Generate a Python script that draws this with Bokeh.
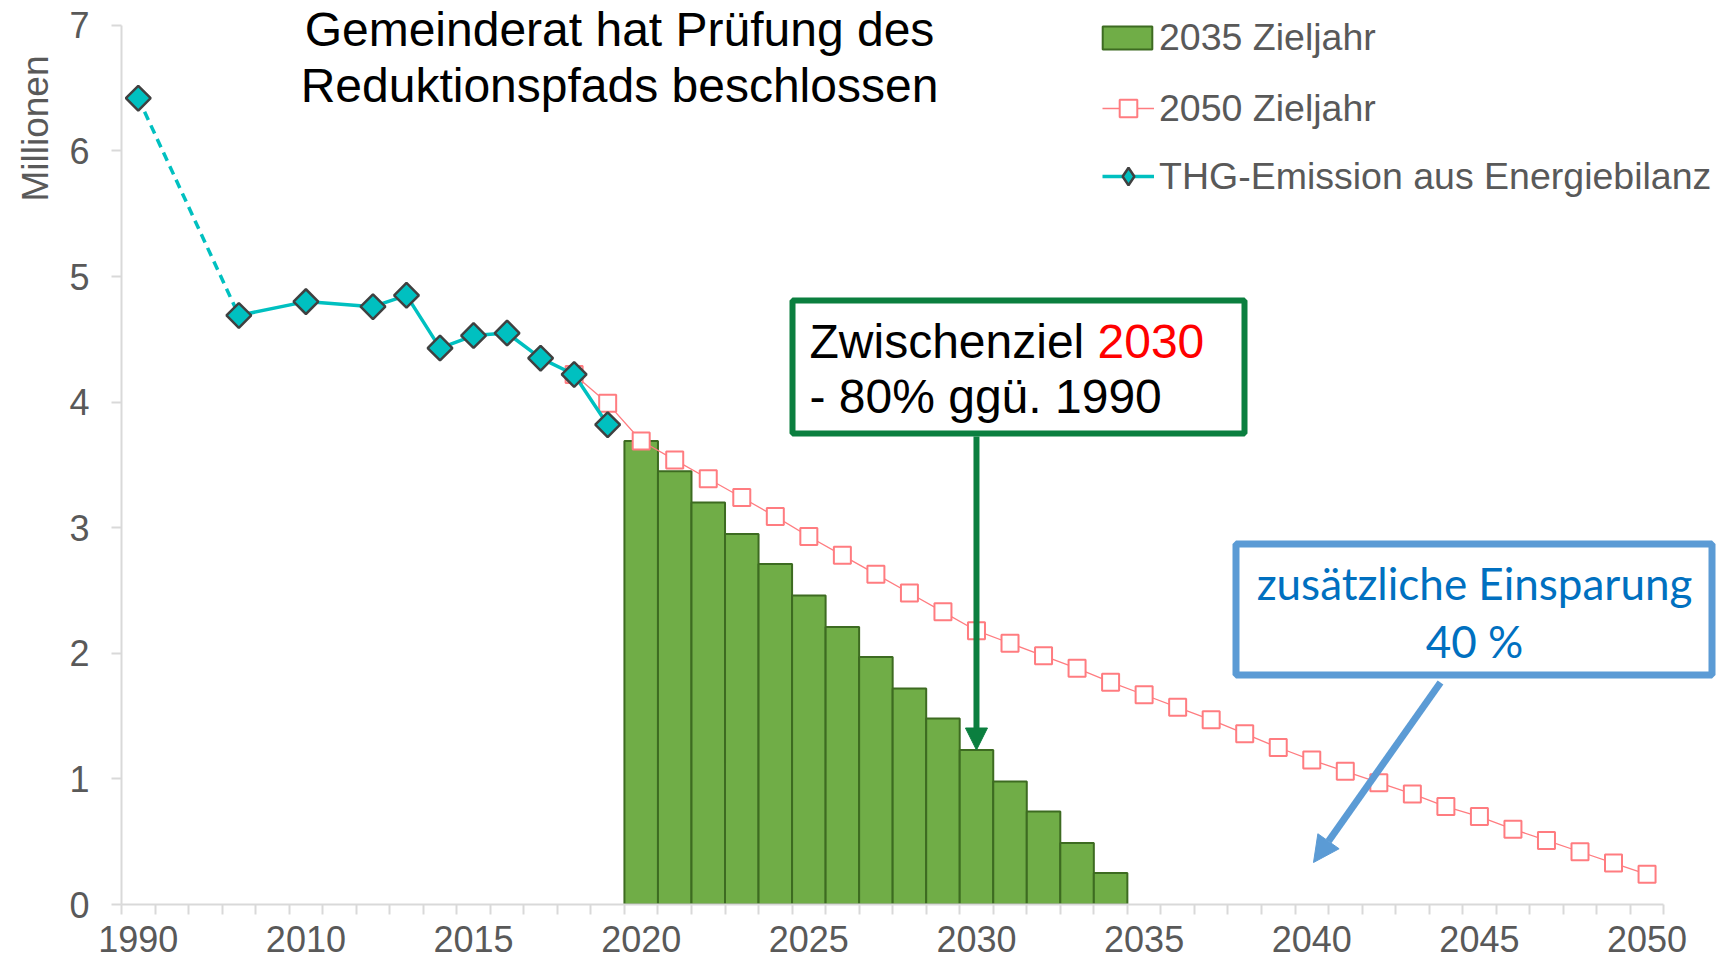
import numpy as np
from bokeh.plotting import figure
from bokeh.models import (Range1d, LinearAxis, FixedTicker, Legend, LegendItem,
                          Label, BoxAnnotation, Arrow, NormalHead, Title)
from bokeh.embed import file_html
from bokeh.resources import INLINE

# ---------------- data ----------------
categories = ["1990", "2006", "2007", "2008", "2009"] + [str(y) for y in range(2010, 2051)]
label_every = 5

thg_years = ["1990", "2008", "2010", "2012", "2013", "2014", "2015", "2016", "2017", "2018", "2019"]
thg_values = [6.42, 4.69, 4.80, 4.76, 4.85, 4.43, 4.53, 4.55, 4.35, 4.22, 3.82]

path2050_years = [str(y) for y in range(2018, 2051)]
path2050_values = [4.22, 3.99, 3.69, 3.54, 3.39, 3.24, 3.09, 2.93, 2.78, 2.63, 2.48,
                   2.33, 2.18, 2.08, 1.98, 1.88, 1.77, 1.67, 1.57, 1.47, 1.36, 1.25,
                   1.15, 1.06, 0.97, 0.88, 0.78, 0.70, 0.60, 0.51, 0.42, 0.33, 0.24]

path2035_years = [str(y) for y in range(2020, 2035)]
path2035_values = [3.69, 3.45, 3.20, 2.95, 2.71, 2.46, 2.21, 1.97, 1.72, 1.48,
                   1.23, 0.98, 0.74, 0.49, 0.25]

y_ticks = [0, 1, 2, 3, 4, 5, 6, 7]

# ---------------- layout helpers ----------------
pos = {c: i for i, c in enumerate(categories)}
thg_x = [pos[c] for c in thg_years]
p50_x = [pos[c] for c in path2050_years]
p35_x = [pos[c] for c in path2035_years]

W, H = 1723, 966
FL, FT, FB = 121, 0, 62          # borders (px)
X0, X1 = -0.5, 47.28
fw = W - FL
fh = H - FT - FB
Y1 = fh / 125.6
SP = fw / (X1 - X0)


def fx(X):  # page x -> data x
    return (X - FL) / SP + X0


def fy(Y):  # page y -> data y
    return (H - FB - Y) / fh * Y1


FONT = "Liberation Sans"
GREY = "#595959"
AXIS = "#D9D9D9"

p = figure(width=W, height=H, output_backend="svg", toolbar_location=None,
           x_range=Range1d(X0, X1), y_range=Range1d(0, Y1),
           x_axis_type=None, y_axis_type=None,
           min_border_left=FL, min_border_right=0, min_border_top=FT,
           min_border_bottom=FB)
p.outline_line_color = None
p.background_fill_color = "white"
p.border_fill_color = "white"

# axes
xaxis = LinearAxis(
    ticker=FixedTicker(ticks=list(range(0, len(categories), label_every)),
                       minor_ticks=[i - 0.5 for i in range(len(categories) + 1)]),
    major_label_overrides={i: categories[i] for i in range(0, len(categories), label_every)},
    bounds=(-0.5, len(categories) - 0.5))
xaxis.axis_line_color = AXIS
xaxis.axis_line_width = 2
xaxis.major_tick_out = 10
xaxis.major_tick_in = 0
xaxis.major_tick_line_color = None
xaxis.minor_tick_out = 10
xaxis.minor_tick_in = 0
xaxis.minor_tick_line_color = AXIS
xaxis.minor_tick_line_width = 2
xaxis.major_label_standoff = 11
xaxis.major_label_text_font = FONT
xaxis.major_label_text_font_size = "36px"
xaxis.major_label_text_color = GREY
p.add_layout(xaxis, "below")

yaxis = LinearAxis(ticker=FixedTicker(ticks=y_ticks), bounds=(0, 7))
yaxis.axis_line_color = AXIS
yaxis.axis_line_width = 2
yaxis.major_tick_out = 10
yaxis.major_tick_in = 0
yaxis.major_tick_line_color = AXIS
yaxis.major_tick_line_width = 2
yaxis.minor_tick_line_color = None
yaxis.major_label_standoff = 22
yaxis.major_label_text_font = FONT
yaxis.major_label_text_font_size = "36px"
yaxis.major_label_text_color = GREY
p.add_layout(yaxis, "left")

# unit caption on the left, near the top
p.add_layout(Title(text="Millionen", align="right", offset=55, standoff=21,
                   text_font=FONT, text_font_size="37px", text_font_style="normal",
                   text_color=GREY), "left")

# glyphs
bars = p.vbar(x=p35_x, top=path2035_values, width=1.0, fill_color="#70AD47",
              line_color="#3D6B21", line_width=2)

red_line = p.line(p50_x, path2050_values, line_color="#FF7C80", line_width=1.3)
red_pts = p.scatter(p50_x, path2050_values, marker="square", size=17, fill_color="white",
                    line_color="#FF7C80", line_width=2)

TEAL = "#00C0C0"
p.line(thg_x[:2], thg_values[:2], line_color=TEAL, line_width=3.5, line_dash="9 6")
thg_line = p.line(thg_x[1:], thg_values[1:], line_color=TEAL, line_width=3.5)
p.scatter(thg_x, thg_values, marker="square", angle=np.pi / 4, size=17.5,
          fill_color=TEAL, line_color="#404040", line_width=2.5)
thg_leg = p.scatter(thg_x, thg_values, marker="diamond", size=20, fill_color=TEAL,
                    line_color="#404040", line_width=2.5, visible=False)

# legends
common = dict(padding=0, margin=0, border_line_color=None, background_fill_alpha=0,
              label_text_font=FONT, label_text_font_size="37.5px", label_text_color=GREY)
legA = Legend(items=[LegendItem(label="2035 Zieljahr", renderers=[bars])],
              location=(1096 - FL, 845), glyph_width=62, glyph_height=29,
              label_standoff=1, spacing=0, **common)
legB = Legend(items=[LegendItem(label="2050 Zieljahr", renderers=[red_line, red_pts]),
                     LegendItem(label="THG-Emission aus Energiebilanz", renderers=[thg_line, thg_leg])],
              location=(1102 - FL, 706), glyph_width=52, glyph_height=44,
              label_standoff=5, spacing=24, **common)
p.add_layout(legA)
p.add_layout(legB)

# title
for txt, yy in [("Gemeinderat hat Prüfung des", 29), ("Reduktionspfads beschlossen", 85)]:
    p.add_layout(Label(x=fx(619), y=fy(yy), text=txt, text_align="center",
                       text_baseline="middle", text_font=FONT, text_font_size="48px",
                       text_color="black"))

# green callout
GREEN = "#0B7F3F"
p.add_layout(BoxAnnotation(left=fx(792), right=fx(1244), top=fy(300), bottom=fy(433),
                           fill_color="white", fill_alpha=1, line_color=GREEN,
                           line_alpha=1, line_width=6))
p.add_layout(Label(x=fx(809), y=fy(341), text="Zwischenziel", text_baseline="middle",
                   text_font=FONT, text_font_size="48px", text_color="black"))
p.add_layout(Label(x=fx(1097), y=fy(341), text="2030", text_baseline="middle",
                   text_font=FONT, text_font_size="48px", text_color="#FF0000"))
p.add_layout(Label(x=fx(809), y=fy(396), text="- 80% ggü. 1990", text_baseline="middle",
                   text_font=FONT, text_font_size="48px", text_color="black"))
p.add_layout(Arrow(x_start=pos["2030"], y_start=fy(436), x_end=pos["2030"],
                   y_end=path2035_values[path2035_years.index("2030")],
                   line_color=GREEN, line_width=6,
                   end=NormalHead(size=22, fill_color=GREEN, line_color=GREEN)))

# blue callout
BLUE = "#5B9BD5"
p.add_layout(BoxAnnotation(left=fx(1235.5), right=fx(1711.5), top=fy(543.5), bottom=fy(674.5),
                           fill_color="white", fill_alpha=1, line_color=BLUE,
                           line_alpha=1, line_width=7))
p.add_layout(Label(x=fx(1474), y=fy(582), text="zusätzliche Einsparung", text_align="center",
                   text_baseline="middle", text_font="Lato", text_font_size="44px",
                   text_color="#0070C0"))
p.add_layout(Label(x=fx(1474), y=fy(640), text="40 %", text_align="center",
                   text_baseline="middle", text_font="Lato", text_font_size="44px",
                   text_color="#0070C0"))
p.add_layout(Arrow(x_start=fx(1440), y_start=fy(682), x_end=fx(1313), y_end=fy(862),
                   line_color=BLUE, line_width=7,
                   end=NormalHead(size=26, fill_color=BLUE, line_color=BLUE)))

open("out.html", "w").write(file_html(p, INLINE))
